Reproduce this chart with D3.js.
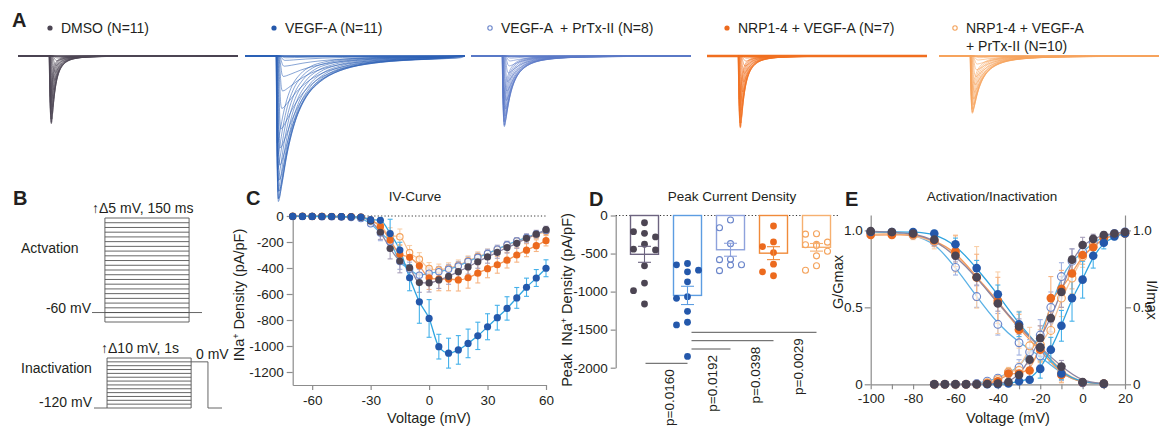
<!DOCTYPE html>
<html>
<head>
<meta charset="utf-8">
<script src="https://cdn.jsdelivr.net/npm/d3@7/dist/d3.min.js"></script>
<style>
  body { margin: 0; background: #fff; }
  svg { display: block; }
</style>
</head>
<body>
<svg id="fig" width="1167" height="428"></svg>
<script>
// ---- groups (shared by every panel) ----
const groups = ['DMSO', 'VEGF-A', 'VEGF-A + PrTx-II', 'NRP1-4 + VEGF-A', 'NRP1-4 + VEGF-A + PrTx-II'];
const legendLines = [['DMSO (N=11)'], ['VEGF-A (N=11)'], ['VEGF-A  + PrTx-II (N=8)'], ['NRP1-4 + VEGF-A (N=7)'], ['NRP1-4 + VEGF-A', '+ PrTx-II (N=10)']];
const openMarker = [false, false, true, false, true];

// ---- A: example current traces ----
const tracePeak = [-2.4, -5.15, -2.5, -2.55, -2.03]; // nA, deepest sweep
const traceDecay = [1, 5, 2.2, 1.2, 2.6];            // relative inactivation time
const sweepFrac = [0.004, 0.012, 0.03, 0.07, 0.14, 0.24, 0.36, 0.5, 0.63, 0.75, 0.85, 0.93, 0.98, 1.0, 0.98, 0.93, 0.86, 0.78, 0.69, 0.6];
const sweepLag = [3.6, 3.3, 3.0, 2.7, 2.4, 2.1, 1.8, 1.5, 1.25, 1.05, 0.9, 0.75, 0.62, 0.52, 0.44, 0.37, 0.31, 0.26, 0.21, 0.17];
const sweepSlow = [3.2, 3.0, 2.8, 2.55, 2.3, 2.1, 1.9, 1.7, 1.55, 1.4, 1.28, 1.18, 1.1, 1.02, 0.96, 0.9, 0.85, 0.8, 0.76, 0.72];
const shapeT = [0, 0.4, 0.8, 1.2, 1.6, 2.2, 3, 4, 5.5, 7.5, 10, 14, 20, 30, 45, 70, 140];
const shapeI = [0, 0.45, 0.9, 1, 0.9, 0.7, 0.5, 0.34, 0.21, 0.12, 0.07, 0.035, 0.017, 0.008, 0.003, 0.001, 0];
const traceSpanMs = 150, traceOnsetMs = 21;

// ---- B: protocols ----
const actSteps = [-70, -65, -60, -55, -50, -45, -40, -35, -30, -25, -20, -15, -10, -5, 0, 5, 10, 15, 20, 25, 30, 35, 40];
const actHold = -60, actStepMs = 150;
const inactSteps = [-120, -110, -100, -90, -80, -70, -60, -50, -40, -30, -20, -10, 0, 10];
const inactHold = -120, inactStepMs = 1000, inactTestMv = 0, inactTestMs = 200;

// ---- C: IV curve ----
const ivVoltage = [-70, -65, -60, -55, -50, -45, -40, -35, -30, -25, -20, -15, -10, -5, 0, 5, 10, 15, 20, 25, 30, 35, 40, 45, 50, 55, 60];
const ivDMSO = [-2, -2, -3, -3, -4, -5, -6, -10, -40, -125, -250, -347, -398, -512, -515, -492, -465, -428, -392, -352, -315, -280, -243, -210, -172, -140, -105];
const ivVEGF = [-2, -3, -3, -4, -4, -5, -6, -8, -28, -33, -135, -262, -475, -660, -788, -1005, -1055, -1030, -980, -922, -852, -782, -711, -630, -548, -477, -402];
const ivPrTx = [-3, -3, -4, -5, -6, -8, -12, -20, -60, -130, -198, -350, -410, -455, -440, -428, -410, -385, -350, -318, -288, -255, -222, -192, -165, -138, -112];
const ivNRP = [-2, -2, -3, -3, -4, -4, -5, -8, -30, -82, -185, -295, -318, -383, -475, -485, -485, -492, -475, -440, -405, -375, -340, -300, -263, -228, -190];
const ivNRPPrTx = [-2, -2, -3, -3, -4, -5, -6, -10, -35, -75, -150, -160, -282, -332, -403, -415, -402, -378, -345, -312, -288, -258, -225, -195, -170, -145, -118];
const ivErrDMSO = [1, 1, 1, 1, 1, 1, 2, 4, 15, 55, 80, 90, 85, 75, 70, 65, 60, 55, 55, 50, 48, 45, 42, 38, 34, 30, 26];
const ivErrVEGF = [1, 1, 1, 1, 1, 1, 2, 4, 10, 20, 110, 60, 100, 165, 145, 95, 115, 110, 110, 105, 100, 95, 90, 80, 70, 65, 65];
const ivErrPrTx = [1, 1, 1, 1, 1, 1, 2, 4, 15, 60, 70, 60, 55, 45, 40, 40, 38, 36, 35, 33, 32, 30, 28, 26, 25, 24, 22];
const ivErrNRP = [1, 1, 1, 1, 1, 1, 2, 4, 12, 40, 70, 70, 60, 65, 90, 90, 90, 85, 80, 75, 70, 65, 60, 55, 50, 45, 40];
const ivErrNRPPrTx = [1, 1, 1, 1, 1, 1, 2, 4, 12, 40, 60, 60, 55, 50, 45, 45, 42, 40, 38, 36, 34, 32, 30, 28, 26, 24, 22];
const ivTicksY = [0, -200, -400, -600, -800, -1000, -1200];
const ivTicksX = [-60, -30, 0, 30, 60];

// ---- D: peak current density ----
const peakDMSO = [-95, -213, -234, -282, -378, -443, -452, -661, -888, -988, -1163];
const peakVEGF = [-631, -648, -718, -740, -871, -1067, -1089, -1259, -1403, -1438, -1852];
const peakPrTx = [-60, -160, -370, -575, -580, -648, -652, -725];
const peakNRP = [-138, -347, -408, -487, -640, -740, -792];
const peakNRPPrTx = [-240, -245, -350, -380, -385, -395, -470, -530, -660, -720];
const peakMean = [-510, -1050, -450, -495, -418];
const peakSem = [105, 120, 85, 85, 50];
const statPairs = [[0, 1], [1, 2], [1, 3], [1, 4]];
const statP = ['p=0.0160', 'p=0.0192', 'p=0.0398', 'p=0.0029'];
const peakTicks = [0, -500, -1000, -1500, -2000];

// ---- E: activation / inactivation ----
const inactVoltage = [-100, -90, -80, -70, -60, -50, -40, -30, -20, -10, 0, 10];
const inactDMSO = [0.995, 0.99, 0.98, 0.94, 0.835, 0.695, 0.525, 0.375, 0.24, 0.115, 0.015, 0.005];
const inactVEGF = [0.99, 0.99, 0.99, 0.98, 0.91, 0.755, 0.585, 0.39, 0.24, 0.07, 0.012, 0.003];
const inactPrTx = [0.99, 0.985, 0.97, 0.925, 0.76, 0.57, 0.39, 0.27, 0.185, 0.065, 0.01, 0.003];
const inactNRP = [0.97, 0.97, 0.975, 0.935, 0.865, 0.695, 0.545, 0.355, 0.225, 0.06, 0.01, 0.003];
const inactNRPPrTx = [0.985, 0.98, 0.97, 0.93, 0.85, 0.695, 0.53, 0.355, 0.255, 0.075, 0.012, 0.004];
const inactErr = [
  [0.01, 0.01, 0.015, 0.03, 0.04, 0.05, 0.05, 0.05, 0.05, 0.04, 0.01, 0.005],
  [0.01, 0.01, 0.01, 0.02, 0.04, 0.05, 0.06, 0.08, 0.06, 0.04, 0.01, 0.005],
  [0.01, 0.01, 0.02, 0.03, 0.05, 0.07, 0.07, 0.08, 0.06, 0.04, 0.01, 0.005],
  [0.02, 0.02, 0.02, 0.04, 0.1, 0.15, 0.15, 0.1, 0.08, 0.05, 0.01, 0.005],
  [0.02, 0.02, 0.03, 0.05, 0.12, 0.2, 0.2, 0.12, 0.1, 0.06, 0.01, 0.005]
];
const actVoltage = [-70, -65, -60, -55, -50, -45, -40, -35, -30, -25, -20, -15, -10, -5, 0, 5, 10, 15, 20];
const actDMSO = [0, 0, 0, 0, 0, 0.002, 0.005, 0.015, 0.06, 0.16, 0.3, 0.43, 0.6, 0.81, 0.905, 0.945, 0.97, 0.98, 0.99];
const actVEGF = [0, 0, 0, 0, 0, 0, 0, 0.005, 0.02, 0.03, 0.1, 0.225, 0.38, 0.56, 0.68, 0.835, 0.92, 0.96, 0.98];
const actPrTx = [0, 0, 0, 0, 0.005, 0.02, 0.04, 0.075, 0.11, 0.21, 0.32, 0.5, 0.7, 0.8, 0.86, 0.92, 0.96, 0.98, 0.99];
const actNRP = [0, 0, 0, 0, 0, 0.005, 0.02, 0.07, 0.07, 0.09, 0.23, 0.56, 0.62, 0.72, 0.84, 0.89, 0.95, 0.97, 0.98];
const actNRPPrTx = [0, 0, 0, 0, 0, 0.01, 0.03, 0.08, 0.09, 0.25, 0.26, 0.35, 0.56, 0.69, 0.83, 0.9, 0.95, 0.97, 0.98];
const actErr = [
  [0, 0, 0, 0, 0, 0, 0.005, 0.01, 0.03, 0.05, 0.08, 0.09, 0.1, 0.07, 0.05, 0.03, 0.02, 0.01, 0.01],
  [0, 0, 0, 0, 0, 0, 0, 0.005, 0.01, 0.02, 0.06, 0.08, 0.1, 0.15, 0.12, 0.08, 0.04, 0.02, 0.01],
  [0, 0, 0, 0, 0.005, 0.01, 0.02, 0.03, 0.05, 0.08, 0.1, 0.1, 0.09, 0.08, 0.06, 0.04, 0.03, 0.02, 0.01],
  [0, 0, 0, 0, 0, 0.005, 0.01, 0.03, 0.04, 0.06, 0.08, 0.14, 0.12, 0.1, 0.06, 0.05, 0.03, 0.02, 0.01],
  [0, 0, 0, 0, 0, 0.01, 0.02, 0.03, 0.05, 0.12, 0.12, 0.12, 0.12, 0.1, 0.07, 0.05, 0.03, 0.02, 0.01]
];

// tables built from the arrays above
const ivMean = [ivDMSO, ivVEGF, ivPrTx, ivNRP, ivNRPPrTx];
const ivErr = [ivErrDMSO, ivErrVEGF, ivErrPrTx, ivErrNRP, ivErrNRPPrTx];
const peakPts = [peakDMSO, peakVEGF, peakPrTx, peakNRP, peakNRPPrTx];
const inactMean = [inactDMSO, inactVEGF, inactPrTx, inactNRP, inactNRPPrTx];
const actMean = [actDMSO, actVEGF, actPrTx, actNRP, actNRPPrTx];

// ---- styles ----
const font = '"Liberation Sans", Arial, Helvetica, sans-serif';
const ink = '#231f20';
const axisGrey = '#8c8c8c';
const dotColor = ['#4c4553', '#2458ab', '#6a85ca', '#ec6a1e', '#f4a35c'];
const fitColor = ['#8d84a0', '#2fa4e0', '#5cb2e6', '#f39a5c', '#f7c49a'];
const errColor = ['#a79fba', '#45b1ea', '#9fb0e0', '#f6b483', '#f9cfa8'];
const barColor = ['#6d6480', '#5c9de2', '#8ea2dc', '#f08a3a', '#f6b070'];
const traceColor = ['#4c4553', '#2c5fb4', '#5a78c6', '#f0701f', '#f6a35c'];
const drawOrder = [4, 2, 3, 0, 1];

const svg = d3.select('#fig').attr('font-family', font);

function txt(x, y, s, size, opts = {}) {
  const t = svg.append('text').attr('x', x).attr('y', y).attr('font-size', size)
    .attr('fill', ink).style('white-space', 'pre').text(s);
  if (opts.anchor) t.attr('text-anchor', opts.anchor);
  if (opts.bold) t.attr('font-weight', 'bold');
  return t;
}
function styleAxis(g) {
  g.attr('font-size', 13.5).attr('font-family', font);
  g.select('.domain').attr('stroke', axisGrey).attr('stroke-width', 1.2);
  g.selectAll('.tick line').attr('stroke', axisGrey).attr('stroke-width', 1.2);
  g.selectAll('.tick text').attr('fill', ink);
  return g;
}
function marker(g, cx, cy, i, r) {
  g.append('circle').attr('cx', cx).attr('cy', cy).attr('r', openMarker[i] ? r - 0.4 : r)
    .attr('fill', openMarker[i] ? '#fff' : dotColor[i]).attr('fill-opacity', openMarker[i] ? 0.6 : 1)
    .attr('stroke', dotColor[i]).attr('stroke-width', openMarker[i] ? 1.1 : 0);
}
function errBar(g, x, y0, y1, color, cap) {
  g.append('line').attr('x1', x).attr('x2', x).attr('y1', y0).attr('y2', y1).attr('stroke', color).attr('stroke-width', 1.1);
  [y0, y1].forEach(y => g.append('line').attr('x1', x - cap).attr('x2', x + cap).attr('y1', y).attr('y2', y)
    .attr('stroke', color).attr('stroke-width', 1.1));
}
// parts: [text, dy, fontSize]
function ylabel(x, y, rot, parts) {
  const t = svg.append('text').attr('transform', `translate(${x},${y}) rotate(${rot})`)
    .attr('text-anchor', 'middle').attr('dy', '0.35em').attr('font-size', 14.5).attr('fill', ink)
    .style('white-space', 'pre');
  parts.forEach(p => {
    const s = t.append('tspan').text(p[0]);
    if (p[1]) s.attr('dy', p[1]);
    if (p[2]) s.attr('font-size', p[2]);
  });
  return t;
}

// ================= A =================
txt(12, 27, 'A', 20, { bold: true });
const traceLeft = [18, 245, 471, 707, 939];
const legendDot = [50, 274, 490, 727, 955];
const traceY = d3.scaleLinear().domain([-5.2, 0]).range([203, 56]);
const traceLine = d3.line().curve(d3.curveMonotoneX);
const gA = svg.append('g');
groups.forEach((name, g) => {
  marker(gA, legendDot[g], 28, g, 2.6);
  legendLines[g].forEach((l, k) => {
    txt(legendDot[g] + 11, 33 + k * 18, l, 14);
  });
  const tx = d3.scaleLinear().domain([0, traceSpanMs]).range([traceLeft[g], traceLeft[g] + 220]);
  gA.append('line').attr('x1', tx(0)).attr('x2', tx(traceSpanMs)).attr('y1', traceY(0)).attr('y2', traceY(0))
    .attr('stroke', traceColor[g]).attr('stroke-width', g === 3 ? 2.4 : 1.3);
  sweepFrac.forEach((f, s) => {
    const t0 = traceOnsetMs + sweepLag[s];
    const tPk = shapeT[3] * sweepSlow[s];
    const pts = [[0, 0]];
    shapeT.forEach((t, i) => {
      const tt = i <= 3 ? t * sweepSlow[s] : tPk + (t - shapeT[3]) * sweepSlow[s] * traceDecay[g];
      if (t0 + tt < traceSpanMs - 0.5) pts.push([t0 + tt, shapeI[i] * f * tracePeak[g]]);
    });
    pts.push([traceSpanMs, 0]);
    gA.append('path').attr('d', traceLine(pts.map(p => [tx(p[0]), traceY(p[1])])))
      .attr('fill', 'none').attr('stroke', traceColor[g]).attr('stroke-width', 0.6).attr('stroke-opacity', 0.95);
  });
});

// ================= B =================
txt(13, 205, 'B', 20, { bold: true });
const protStroke = '#555';
const actX = d3.scaleLinear().domain([-23, 173]).range([92, 202]);
const actY = d3.scaleLinear().domain([-70, 40]).range([322, 218]);
const gB = svg.append('g').attr('stroke', protStroke).attr('stroke-width', 0.9).attr('fill', 'none');
gB.append('line').attr('x1', actX(-23)).attr('x2', actX(173)).attr('y1', actY(actHold)).attr('y2', actY(actHold));
actSteps.forEach(v => gB.append('line').attr('x1', actX(0)).attr('x2', actX(actStepMs)).attr('y1', actY(v)).attr('y2', actY(v)));
[0, actStepMs].forEach(t => gB.append('line').attr('x1', actX(t)).attr('x2', actX(t))
  .attr('y1', actY(d3.min(actSteps))).attr('y2', actY(d3.max(actSteps))));
const inX = d3.scaleLinear().domain([-155, 1367]).range([94, 222]);
const inY = d3.scaleLinear().domain([-120, 10]).range([408, 358]);
gB.append('line').attr('x1', inX(-155)).attr('x2', inX(0)).attr('y1', inY(inactHold)).attr('y2', inY(inactHold));
inactSteps.forEach(v => gB.append('line').attr('x1', inX(0)).attr('x2', inX(inactStepMs)).attr('y1', inY(v)).attr('y2', inY(v)));
[0, inactStepMs].forEach(t => gB.append('line').attr('x1', inX(t)).attr('x2', inX(t))
  .attr('y1', inY(d3.min(inactSteps))).attr('y2', inY(d3.max(inactSteps))));
gB.append('path').attr('d', d3.line()([
  [inX(inactStepMs), inY(inactTestMv)], [inX(inactStepMs + inactTestMs), inY(inactTestMv)],
  [inX(inactStepMs + inactTestMs), inY(inactHold)], [inX(1367), inY(inactHold)]
]));
txt(92, 213, '\u2191\u03945 mV, 150 ms', 14);
txt(21, 253, 'Actvation', 14);
txt(91, 313, '-60 mV', 14, { anchor: 'end' });
txt(101, 353, '\u2191\u039410 mV, 1s', 14);
txt(196, 359, '0 mV', 14);
txt(21, 373, 'Inactivation', 14);
txt(92, 407, '-120 mV', 14, { anchor: 'end' });

// ================= C =================
txt(246, 205, 'C', 20, { bold: true });
txt(415, 201, 'IV-Curve', 13.5, { anchor: 'middle' });
const xC = d3.scaleLinear().domain([-70, 60]).range([292.7, 546]);
const yC = d3.scaleLinear().domain([-1300, 0]).range([385, 216]);
styleAxis(svg.append('g').attr('transform', 'translate(292.7,0)')
  .call(d3.axisLeft(yC).tickValues(ivTicksY).tickSize(6).tickPadding(3).tickSizeOuter(0).tickFormat(d => String(d))));
styleAxis(svg.append('g').attr('transform', 'translate(0,385)')
  .call(d3.axisBottom(xC).tickValues(ivTicksX).tickSize(5).tickPadding(5).tickSizeOuter(0).tickFormat(d => String(d))));
svg.append('line').attr('x1', xC(-70)).attr('x2', xC(60)).attr('y1', yC(0)).attr('y2', yC(0))
  .attr('stroke', '#333').attr('stroke-width', 1).attr('stroke-dasharray', '1.2,2.2');
ylabel(239, 295, -90, [['INa'], ['+', -5, 9], [' Density (pA/pF)', 5]]);
txt(429, 423, 'Voltage (mV)', 14.5, { anchor: 'middle' });
const gC = svg.append('g');
const lineC = d3.line().curve(d3.curveMonotoneX);
drawOrder.forEach(i => {
  gC.append('path').attr('d', lineC(ivVoltage.map((v, k) => [xC(v), yC(ivMean[i][k])])))
    .attr('fill', 'none').attr('stroke', fitColor[i]).attr('stroke-width', 1.3);
});
drawOrder.forEach(i => ivVoltage.forEach((v, k) => {
  if (ivErr[i][k] > 5) errBar(gC, xC(v), yC(ivMean[i][k] - ivErr[i][k]), yC(ivMean[i][k] + ivErr[i][k]), errColor[i], 2.5);
}));
drawOrder.forEach(i => ivVoltage.forEach((v, k) => marker(gC, xC(v), yC(ivMean[i][k]), i, 3.6)));

// ================= D =================
txt(589, 206, 'D', 20, { bold: true });
txt(732, 201, 'Peak Current Density', 13.5, { anchor: 'middle' });
const yD = d3.scaleLinear().domain([-2000, 0]).range([367.7, 215.5]);
const xD = d3.scalePoint().domain(groups).range([644.5, 816.5]);
const barW = 28;
styleAxis(svg.append('g').attr('transform', 'translate(615.7,0)')
  .call(d3.axisLeft(yD).tickValues(peakTicks).tickSize(5).tickPadding(3).tickSizeOuter(0).tickFormat(d => String(d))));
svg.append('line').attr('x1', 615.7).attr('x2', 840).attr('y1', yD(0)).attr('y2', yD(0))
  .attr('stroke', '#333').attr('stroke-width', 1).attr('stroke-dasharray', '1.2,2.2');
ylabel(567, 300, -90, [['Peak  INa'], ['+', -5, 9], [' Density (pA/pF)', 5]]);
const gD = svg.append('g');
function swarm(vals, cx, step, gap) {
  const placed = [];
  return vals.map(v => {
    const py = yD(v);
    for (const k of [0, -1, 1]) {
      const px = cx + k * step;
      if (placed.every(p => Math.abs(p[0] - px) > 1 || Math.abs(p[1] - py) > gap)) { placed.push([px, py]); return [px, py]; }
    }
    placed.push([cx, py]);
    return [cx, py];
  });
}
groups.forEach((name, i) => {
  const cx = xD(name);
  gD.append('rect').attr('x', cx - barW / 2).attr('width', barW).attr('y', yD(0)).attr('height', yD(peakMean[i]) - yD(0))
    .attr('fill', 'none').attr('stroke', barColor[i]).attr('stroke-width', 1.4);
  swarm(peakPts[i], cx, 11, 9).forEach(p => marker(gD, p[0], p[1], i, 3.4));
  errBar(gD, cx, yD(peakMean[i] - peakSem[i]), yD(peakMean[i] + peakSem[i]), barColor[i], 6.5);
});
const bracketY = [363.3, 349, 340.7, 332.3];
statPairs.forEach((pr, k) => {
  const x1 = xD(groups[pr[0]]) + (k === 0 ? 1 : 4), x2 = xD(groups[pr[1]]);
  gD.append('line').attr('x1', x1).attr('x2', x2).attr('y1', bracketY[k]).attr('y2', bracketY[k])
    .attr('stroke', '#555').attr('stroke-width', 1);
  svg.append('text').attr('transform', `translate(${x2 - 13.5},${bracketY[k] + 6}) rotate(-90)`)
    .attr('text-anchor', 'end').attr('font-size', 13.5).attr('fill', ink).text(statP[k]);
});

// ================= E =================
txt(845, 206, 'E', 20, { bold: true });
txt(992, 201, 'Activation/Inactivation', 13.5, { anchor: 'middle' });
const xE = d3.scaleLinear().domain([-100, 20]).range([870.7, 1125]);
const yE = d3.scaleLinear().domain([0, 1.1]).range([384.3, 215]);
const eFmt = d => (d === 0 ? '0' : d3.format('.1f')(d));
styleAxis(svg.append('g').attr('transform', 'translate(870.7,0)')
  .call(d3.axisLeft(yE).tickValues([0, 0.5, 1]).tickSize(6).tickPadding(2).tickSizeOuter(0).tickFormat(eFmt)));
styleAxis(svg.append('g').attr('transform', 'translate(1125,0)')
  .call(d3.axisRight(yE).tickValues([0, 0.5, 1]).tickSize(6).tickPadding(2).tickSizeOuter(0).tickFormat(eFmt)));
styleAxis(svg.append('g').attr('transform', 'translate(0,384.3)')
  .call(d3.axisBottom(xE).tickValues(d3.range(-100, 21, 10)).tickSize(5).tickPadding(4).tickSizeOuter(0)
    .tickFormat(d => (d % 20 === 0 ? String(d) : ''))));
ylabel(838, 282, -90, [['G/Gmax']]);
ylabel(1152, 300, 90, [['I/Imax']]);
txt(1008, 423, 'Voltage (mV)', 14.5, { anchor: 'middle' });
const gE = svg.append('g');
const lineE = d3.line().curve(d3.curveBasis);
const eOrder = [2, 4, 3, 1, 0];
eOrder.forEach(i => {
  gE.append('path').attr('d', lineE(inactVoltage.map((v, k) => [xE(v), yE(inactMean[i][k])])))
    .attr('fill', 'none').attr('stroke', fitColor[i]).attr('stroke-width', 1.3);
  gE.append('path').attr('d', lineE(actVoltage.map((v, k) => [xE(v), yE(actMean[i][k])])))
    .attr('fill', 'none').attr('stroke', fitColor[i]).attr('stroke-width', 1.3);
});
eOrder.forEach(i => {
  inactVoltage.forEach((v, k) => {
    if (inactErr[i][k] > 0.015) errBar(gE, xE(v), yE(inactMean[i][k] - inactErr[i][k]), yE(inactMean[i][k] + inactErr[i][k]), errColor[i], 2.5);
  });
  actVoltage.forEach((v, k) => {
    if (actErr[i][k] > 0.015) errBar(gE, xE(v), yE(actMean[i][k] - actErr[i][k]), yE(actMean[i][k] + actErr[i][k]), errColor[i], 2.5);
  });
});
eOrder.forEach(i => {
  inactVoltage.forEach((v, k) => marker(gE, xE(v), yE(inactMean[i][k]), i, 4.3));
  actVoltage.forEach((v, k) => marker(gE, xE(v), yE(actMean[i][k]), i, 4.3));
});
</script>
</body>
</html>
